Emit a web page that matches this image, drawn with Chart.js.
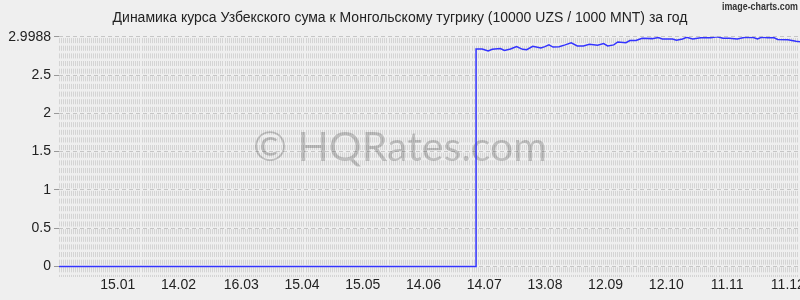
<!DOCTYPE html>
<html lang="ru">
<head>
  <meta charset="UTF-8">
  <title>Динамика курса UZS / MNT</title>
  <script src="https://cdn.jsdelivr.net/npm/chart.js"></script>
  <style>
    html, body {
      margin: 0;
      padding: 0;
      background: #efefef;
    }
    .wrap {
      width: 800px;
      height: 300px;
    }
  </style>
</head>
<body>

<div class="wrap">
  <canvas id="chart" width="800" height="300"></canvas>
</div>

<script>
  // день 0 = 17.12.2023, последний день = 17.12.2024
  const tickDays = [29, 59, 90, 120, 150, 180, 210, 240, 270, 300, 330, 360];
  const tickLabels = ["15.01", "14.02", "16.03", "15.04", "15.05", "14.06", "14.07", "13.08", "12.09", "12.10", "11.11", "11.12"];
  const yTicks = [0, 0.5, 1, 1.5, 2, 2.5, 2.9988];

  // курс 10000 UZS / 1000 MNT
  const days = [0, 206, 206, 209, 212, 214, 218, 220, 223, 226, 229, 231, 234, 238, 240, 242, 244, 247, 250, 253,
                256, 259, 262, 266, 269, 271, 274, 276, 280, 282, 285, 288, 293, 296, 298, 303, 305, 308, 310, 313,
                317, 322, 325, 328, 331, 335, 339, 343, 345, 347, 350, 353, 355, 360, 364, 366];
  const rates = [0, 0, 2.84, 2.84, 2.815, 2.835, 2.845, 2.82, 2.84, 2.87, 2.835, 2.83, 2.875, 2.853, 2.87, 2.893, 2.865, 2.87, 2.893, 2.92,
                 2.88, 2.88, 2.9, 2.89, 2.91, 2.88, 2.893, 2.932, 2.922, 2.95, 2.952, 2.98, 2.975, 2.99, 2.97, 2.97, 2.953, 2.97, 2.993, 2.97,
                 2.985, 2.985, 2.998, 2.98, 2.98, 2.97, 2.993, 2.99, 2.97, 2.993, 2.985, 2.99, 2.965, 2.96, 2.94, 2.935];

  const title = "Динамика курса Узбекского сума к Монгольскому тугрику (10000 UZS / 1000 MNT) за год";
  const font = "'Liberation Sans', Arial, sans-serif";

  const points = days.map((d, i) => ({ x: d, y: rates[i] }));

  // фон, водяной знак и подпись сервиса
  const decor = {
    id: 'decor',
    beforeDraw(chart) {
      const c = chart.ctx;
      c.save();
      c.fillStyle = '#efefef';
      c.fillRect(0, 0, chart.width, chart.height);
      c.restore();
    },
    beforeDatasetsDraw(chart) {
      const c = chart.ctx;
      c.save();
      c.font = "41px Lato, 'Open Sans', sans-serif";
      c.fillStyle = 'rgba(0,0,0,0.2)';
      c.textAlign = 'center';
      c.textBaseline = 'alphabetic';
      c.fillText('© HQRates.com', 400, 161);
      c.restore();
    },
    afterDraw(chart) {
      const c = chart.ctx;
      const txt = 'image-charts.com';
      c.save();
      c.font = "bold 11px 'Liberation Sans', sans-serif";
      const w = c.measureText(txt).width;
      c.translate(722, 1);
      c.scale(76 / w, 1);
      c.fillStyle = '#333';
      c.textAlign = 'left';
      c.textBaseline = 'top';
      c.fillText(txt, 0, 0);
      c.restore();
    }
  };

  const allDays = [];
  for (let d = 0; d <= 366; d++) allDays.push(d);

  new Chart(document.getElementById('chart'), {
    type: 'line',
    data: {
      datasets: [{
        data: points,
        borderColor: '#3333ff',
        borderWidth: 1.5,
        pointRadius: 0,
        fill: false,
        tension: 0
      }]
    },
    options: {
      responsive: false,
      animation: false,
      layout: { padding: { left: 0, right: 0, top: 0, bottom: 6 } },
      plugins: {
        legend: { display: false },
        tooltip: { enabled: false },
        title: {
          display: true,
          text: title,
          color: '#222',
          font: { family: font, size: 14, weight: 'normal' },
          padding: { top: 10, bottom: 10 }
        }
      },
      scales: {
        x: {
          type: 'linear',
          min: 0,
          max: 366,
          afterBuildTicks: s => { s.ticks = allDays.map(d => ({ value: d })); },
          afterFit: s => { s.paddingLeft = 0; s.paddingRight = 0; },
          ticks: {
            autoSkip: false,
            maxRotation: 0,
            padding: 0,
            color: '#222',
            font: { family: font, size: 14 },
            callback: v => {
              const i = tickDays.indexOf(v);
              return i >= 0 ? tickLabels[i] : '';
            }
          },
          grid: {
            color: '#d4d4d4',
            drawTicks: false
          },
          border: { display: false, dash: [5.1, 2.54], dashOffset: 6.37 }
        },
        y: {
          min: -0.14,
          max: 2.9988,
          afterBuildTicks: s => { s.ticks = yTicks.map(v => ({ value: v })); },
          afterFit: s => { s.width = 59; },
          ticks: {
            padding: 3,
            color: '#222',
            font: { family: font, size: 14 },
            callback: v => String(v)
          },
          grid: {
            color: '#c6c6c6',
            drawTicks: true,
            tickLength: 5,
            tickColor: '#999'
          },
          border: { display: false, dash: [4, 3] }
        }
      }
    },
    plugins: [decor]
  });
</script>

</body>
</html>
